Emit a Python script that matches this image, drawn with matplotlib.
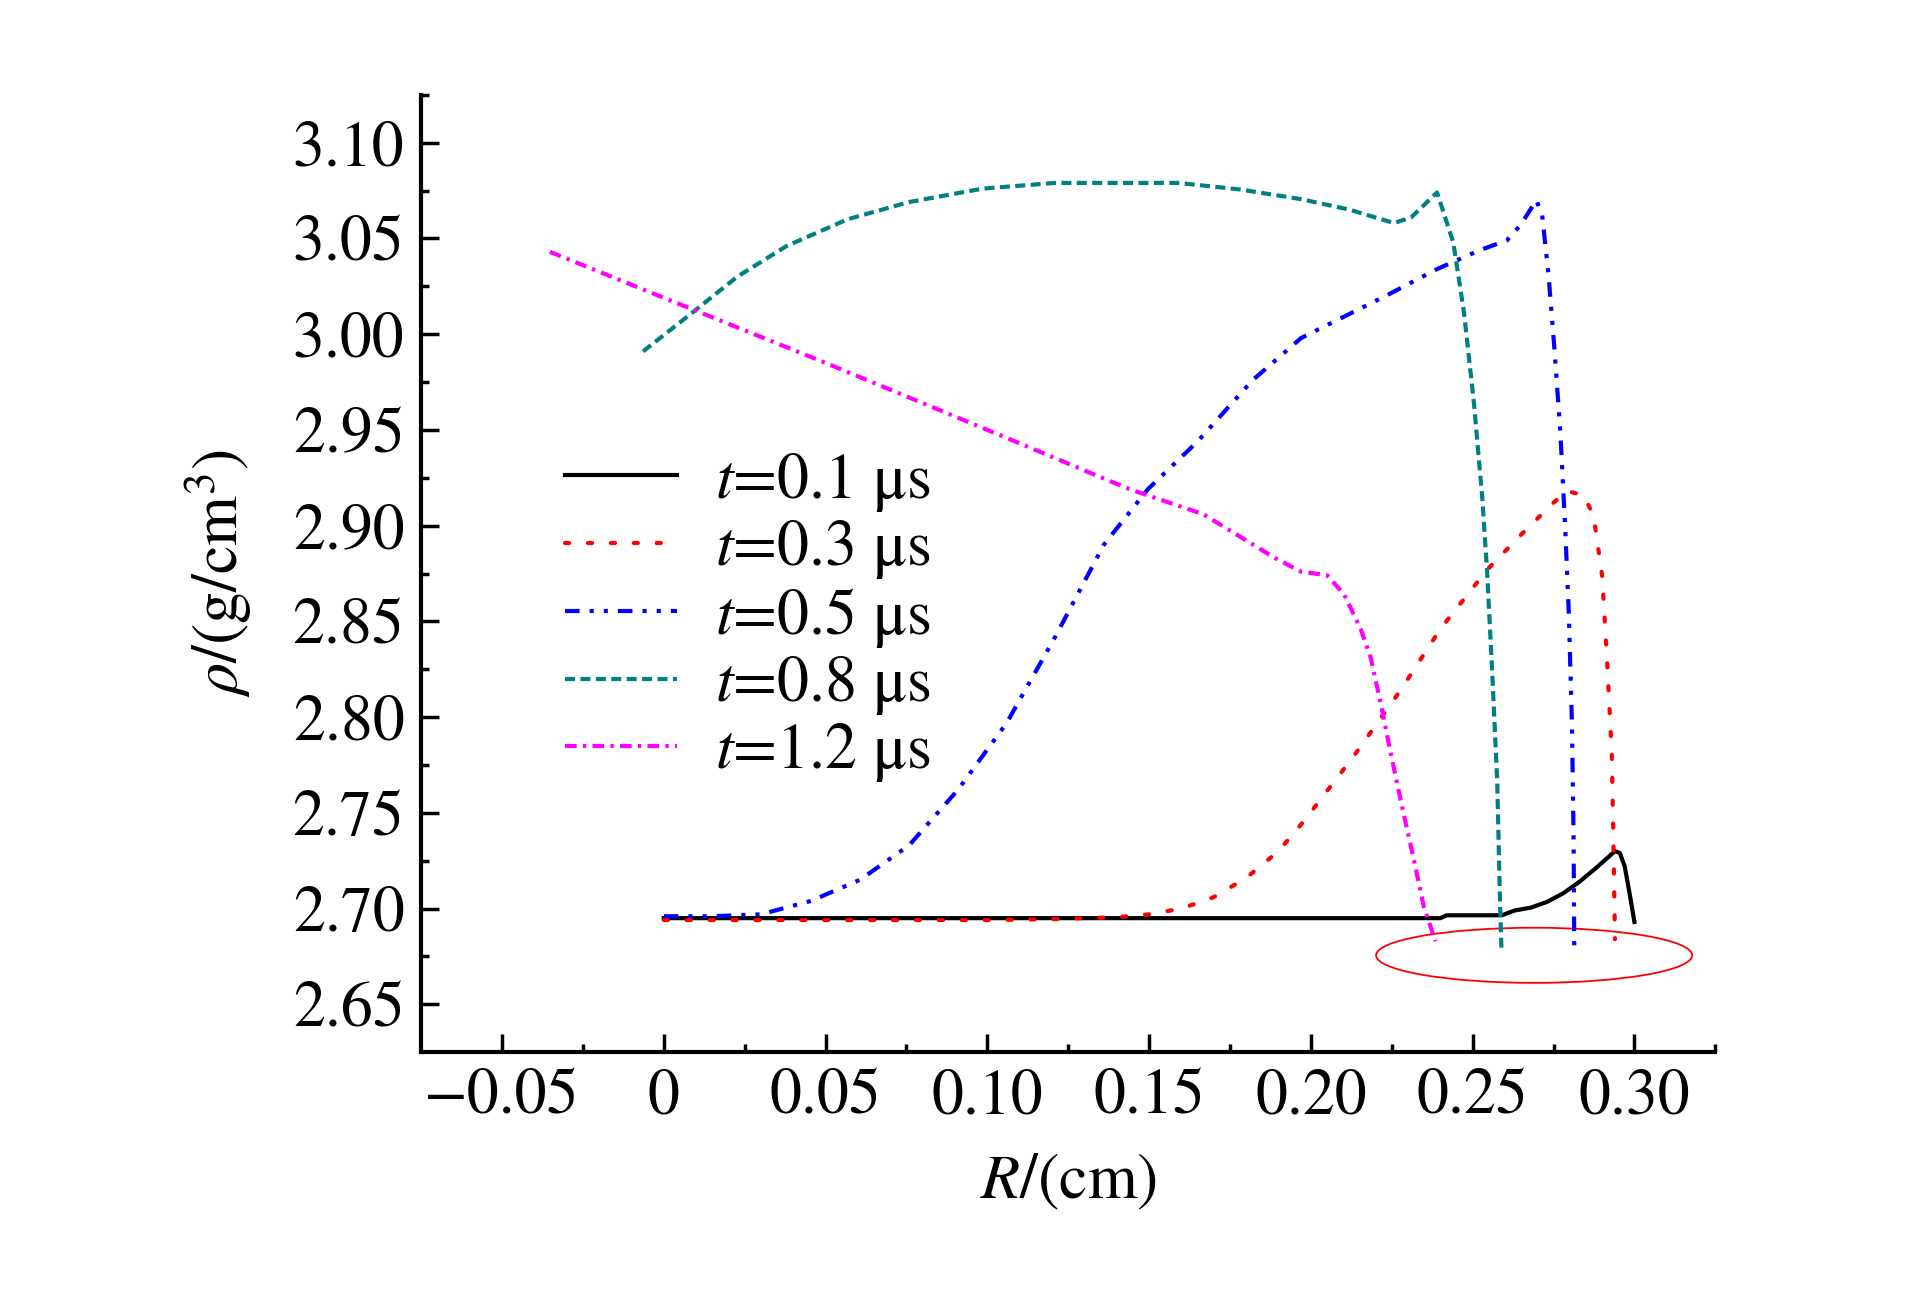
import matplotlib
matplotlib.use('Agg')
import matplotlib.pyplot as plt
from matplotlib.patches import Ellipse

plt.rcParams['font.family'] = ['STIXGeneral', 'DejaVu Serif']
plt.rcParams['mathtext.fontset'] = 'stix'

# ---------- data ----------
r_01 = [0.0, 0.05, 0.10, 0.15, 0.20, 0.240, 0.242, 0.259, 0.263, 0.268, 0.273, 0.278,
        0.283, 0.288, 0.292, 0.294, 0.2955, 0.297, 0.2985, 0.300]
rho_01 = [2.695, 2.695, 2.695, 2.695, 2.695, 2.695, 2.6965, 2.6965, 2.699, 2.7005, 2.7035,
          2.708, 2.714, 2.721, 2.727, 2.730, 2.729, 2.722, 2.708, 2.693]

r_03 = [0.0, 0.05, 0.10, 0.12, 0.14, 0.15, 0.16, 0.17, 0.18, 0.19, 0.198, 0.2134, 0.2277,
        0.240, 0.2545, 0.2648, 0.275, 0.2791, 0.2843, 0.2874, 0.290, 0.2915, 0.293, 0.2935, 0.294]
rho_03 = [2.694, 2.694, 2.694, 2.6945, 2.6955, 2.697, 2.700, 2.706, 2.716, 2.730, 2.746,
          2.780, 2.814, 2.846, 2.877, 2.895, 2.912, 2.918, 2.916, 2.905, 2.874, 2.831,
          2.781, 2.736, 2.684]

r_05 = [0.0, 0.015, 0.03, 0.0455, 0.0606, 0.0758, 0.0909, 0.106, 0.121, 0.136, 0.1496,
        0.165, 0.182, 0.197, 0.2236, 0.239, 0.2524, 0.2606, 0.2648, 0.2697, 0.2715, 0.2735,
        0.2752, 0.2771, 0.2786, 0.2797, 0.2807, 0.2812, 0.2814]
rho_05 = [2.696, 2.696, 2.697, 2.704, 2.715, 2.733, 2.762, 2.797, 2.842, 2.890, 2.919,
          2.944, 2.976, 2.998, 3.0204, 3.034, 3.044, 3.049, 3.057, 3.070, 3.062, 3.030,
          2.994, 2.949, 2.899, 2.855, 2.796, 2.736, 2.679]

r_08 = [-0.0064, 0.0076, 0.0227, 0.0379, 0.0568, 0.0758, 0.0985, 0.121, 0.159, 0.178,
        0.197, 0.212, 0.2257, 0.231, 0.239, 0.244, 0.2473, 0.2504, 0.253, 0.2545, 0.256,
        0.2576, 0.2584, 0.2589]
rho_08 = [2.991, 3.0096, 3.030, 3.046, 3.060, 3.069, 3.076, 3.079, 3.079, 3.0756,
          3.0705, 3.065, 3.058, 3.061, 3.074, 3.048, 3.0116, 2.964, 2.914, 2.875, 2.825,
          2.766, 2.707, 2.679]

r_12 = [-0.0352, 0.0, 0.05, 0.10, 0.144, 0.1667, 0.189, 0.197, 0.2051, 0.2103, 0.2154,
        0.2185, 0.2216, 0.2247, 0.2277, 0.2319, 0.2349, 0.2385]
rho_12 = [3.043, 3.019, 2.985, 2.950, 2.919, 2.906, 2.883, 2.876, 2.874, 2.864, 2.846,
          2.831, 2.807, 2.781, 2.757, 2.725, 2.701, 2.683]

labels = ['$t$=0.1 μs', '$t$=0.3 μs', '$t$=0.5 μs', '$t$=0.8 μs', '$t$=1.2 μs']

xticks = [-0.05, 0, 0.05, 0.10, 0.15, 0.20, 0.25, 0.30]
xticklabels = ['\u22120.05', '0', '0.05', '0.10', '0.15', '0.20', '0.25', '0.30']
yticks = [2.65, 2.70, 2.75, 2.80, 2.85, 2.90, 2.95, 3.00, 3.05, 3.10]
yticklabels = ['2.65', '2.70', '2.75', '2.80', '2.85', '2.90', '2.95', '3.00', '3.05', '3.10']

# ---------- figure ----------
fig = plt.figure(figsize=(19.23, 12.99), dpi=100)
ax = fig.add_axes([0.219, 0.190, 0.673, 0.737])

ax.plot(r_01, rho_01, color='black', lw=3, ls='-', label=labels[0])
ax.plot(r_03, rho_03, color='red', lw=3, ls=(0, (1, 4.5)), dash_capstyle='round', label=labels[1])
ax.plot(r_05, rho_05, color='blue', lw=3, ls=(0, (3.5, 2.4, 1, 2.4, 1, 2.4)), label=labels[2])
ax.plot(r_08, rho_08, color='#008080', lw=3, ls=(0, (2.4, 1.3)), label=labels[3])
ax.plot(r_12, rho_12, color='magenta', lw=3, ls=(0, (2.8, 1.5, 0.8, 1.5)), label=labels[4])

ax.add_patch(Ellipse((0.269, 2.6756), 0.0977, 0.0288, fill=False, edgecolor='red',
                     lw=1.3, clip_on=False))

ax.set_xlim(-0.075, 0.325)
ax.set_ylim(2.625, 3.125)
ax.set_xticks(xticks)
ax.set_xticklabels(xticklabels)
ax.set_yticks(yticks)
ax.set_yticklabels(yticklabels)
ax.set_xticks([-0.025, 0.025, 0.075, 0.125, 0.175, 0.225, 0.275, 0.325], minor=True)
ax.set_yticks([2.675, 2.725, 2.775, 2.825, 2.875, 2.925, 2.975, 3.025, 3.075, 3.125], minor=True)

for s in ['top', 'right']:
    ax.spines[s].set_visible(False)
for s in ['left', 'bottom']:
    ax.spines[s].set_linewidth(3)

ax.tick_params(which='major', direction='in', length=13, width=2.5, labelsize=46, pad=12)
ax.tick_params(which='minor', direction='in', length=6, width=2.5)

ax.set_xlabel('$R$/(cm)', fontsize=46, labelpad=18)
ax.set_ylabel('$\\rho$/(g/cm$^3$)', fontsize=46, labelpad=28)

ax.legend(loc='center left', bbox_to_anchor=(0.111, 0.454), frameon=False, fontsize=46,
          handlelength=1.75, handletextpad=0.6, labelspacing=0.07, borderpad=0, borderaxespad=0)

fig.savefig('out.png', dpi=100)
